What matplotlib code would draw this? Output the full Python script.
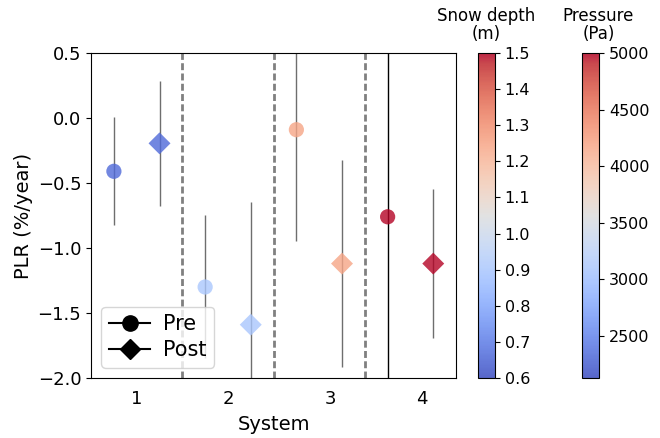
import matplotlib
matplotlib.use("Agg")
import matplotlib.pyplot as plt
import numpy as np
from matplotlib.colors import Normalize
from matplotlib.cm import ScalarMappable
from matplotlib.lines import Line2D

# ---- data ----
systems = ["1", "2", "3", "4"]
pre_plr = [-0.41, -1.30, -0.09, -0.76]
pre_err = [0.415, 0.55, 0.86, 1.5]
post_plr = [-0.195, -1.59, -1.12, -1.12]
post_err = [0.48, 0.94, 0.795, 0.574]
snow_depth = [0.66, 0.90, 1.25, 1.50]      # colours pre markers
pressure = [2330, 3080, 4200, 5000]        # colours post markers
snow_range = (0.6, 1.5)
pressure_range = (2130, 5000)
snow_ticks = [0.6, 0.7, 0.8, 0.9, 1.0, 1.1, 1.2, 1.3, 1.4, 1.5]
pressure_ticks = [2500, 3000, 3500, 4000, 4500, 5000]
tick_pos = [0.5, 2.5, 4.75, 6.75]
divider_pos = [1.5, 3.5, 5.5]

cmap = plt.get_cmap("coolwarm")
snow_norm = Normalize(*snow_range)
pres_norm = Normalize(*pressure_range)

fig = plt.figure(figsize=(6.6, 4.38), dpi=100)
ax = fig.add_axes([0.138, 0.137, 0.553, 0.742])

x_pre = np.arange(len(systems)) * 2
x_post = x_pre + 1

for i in range(len(systems)):
    ecol = "k" if i == 3 else "#6e6e6e"
    ax.errorbar(x_pre[i], pre_plr[i], yerr=pre_err[i], fmt="none",
                ecolor=ecol, elinewidth=1.0, capsize=0, zorder=2)
    ax.errorbar(x_post[i], post_plr[i], yerr=post_err[i], fmt="none",
                ecolor="#6e6e6e", elinewidth=1.0, capsize=0, zorder=2)

ax.scatter(x_pre, pre_plr, c=[cmap(snow_norm(v)) for v in snow_depth],
           marker="o", s=120, alpha=0.8, linewidths=0, zorder=3)
ax.scatter(x_post, post_plr, c=[cmap(pres_norm(v)) for v in pressure],
           marker="D", s=125, alpha=0.8, linewidths=0, zorder=3)

for d in divider_pos:
    ax.axvline(d, color="#808080", lw=2.0, linestyle=(0, (2.5, 1.2)), zorder=1)

ax.set_xlim(-0.5, 7.5)
ax.set_ylim(-2.0, 0.5)
ax.set_yticks([-2.0, -1.5, -1.0, -0.5, 0.0, 0.5])
ax.set_xticks(tick_pos)
ax.set_xticklabels(systems)
ax.tick_params(axis="x", length=0, pad=9, labelsize=13)
ax.tick_params(axis="y", labelsize=13)
ax.set_xlabel("System", fontsize=14, labelpad=5)
ax.set_ylabel("PLR (%/year)", fontsize=14, labelpad=3)

handles = [Line2D([], [], color="k", marker="o", markersize=11, lw=1.5),
           Line2D([], [], color="k", marker="D", markersize=10, lw=1.5)]
ax.legend(handles, ["Pre", "Post"], loc="lower left", fontsize=15,
          handlelength=2.0, borderaxespad=0.5, borderpad=0.35,
          labelspacing=0.3, handletextpad=0.6)

# colorbars
cax1 = fig.add_axes([0.724, 0.137, 0.026, 0.742])
cb1 = fig.colorbar(ScalarMappable(norm=snow_norm, cmap=cmap), cax=cax1, alpha=0.85)
cb1.set_ticks(snow_ticks)
cb1.ax.tick_params(labelsize=11.5)
cax1.text(0.5, 1.03, "Snow depth\n(m)", transform=cax1.transAxes,
          ha="center", va="bottom", fontsize=12, linespacing=1.05)

cax2 = fig.add_axes([0.882, 0.137, 0.026, 0.742])
cb2 = fig.colorbar(ScalarMappable(norm=pres_norm, cmap=cmap), cax=cax2, alpha=0.85)
cb2.set_ticks(pressure_ticks)
cb2.ax.tick_params(labelsize=11.5)
cax2.text(0.95, 1.03, "Pressure\n(Pa)", transform=cax2.transAxes,
          ha="center", va="bottom", fontsize=12, linespacing=1.05)

fig.savefig("out.png", dpi=100)
